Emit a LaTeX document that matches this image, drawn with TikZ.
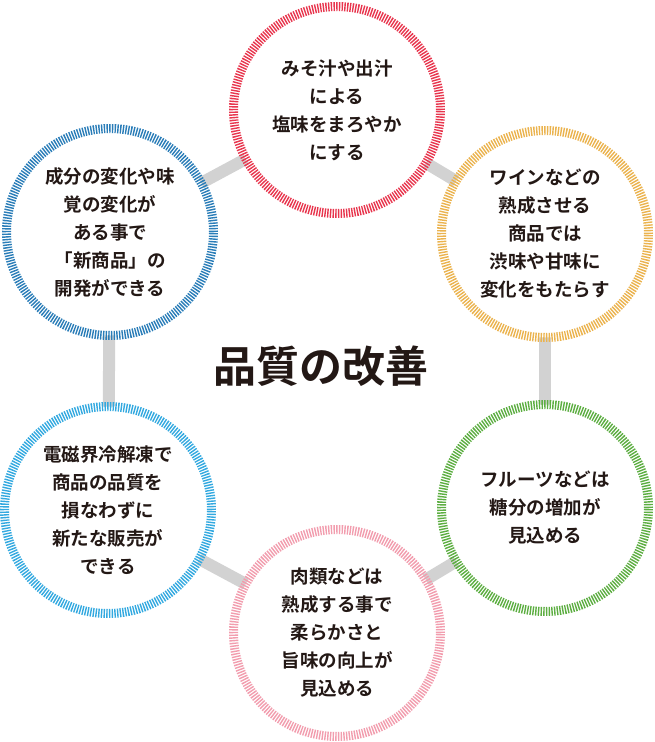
\documentclass[tikz,border=0pt]{standalone}
\usepackage{fontspec}
\setmainfont{Noto Sans CJK JP}[BoldFont={* Bold}]
\usetikzlibrary{backgrounds}
\definecolor{ringred}{HTML}{E8364E}
\definecolor{ringyellow}{HTML}{EBB34E}
\definecolor{ringblue}{HTML}{2A7DB8}
\definecolor{ringcyan}{HTML}{33A9E0}
\definecolor{ringgreen}{HTML}{5DAE42}
\definecolor{ringpink}{HTML}{F29DAE}
\definecolor{linkgray}{HTML}{D2D2D2}
\definecolor{inkdark}{HTML}{231815}

\begin{document}
\begin{tikzpicture}[x=1pt, y=-1pt,
    ring/.style={circle, draw=#1, fill=white, line width=9pt,
      dash pattern=on 1.4pt off 1.3pt, minimum size=207pt, inner sep=0pt,
      align=center, text=inkdark,
      font=\bfseries\fontsize{18.5}{28}\selectfont},
    link/.style={draw=linkgray, line width=12pt}]
  \useasboundingbox (0,0) rectangle (654,742);
  % six hatched circles round the centre
  \foreach \name/\pos/\col/\txt in {
      miso/{(337,110)}/ringred/{みそ汁や出汁\\による\\塩味をまろやか\\にする},
      wine/{(545,234)}/ringyellow/{ワインなどの\\熟成させる\\商品では\\渋味や甘味に\\変化をもたらす},
      taste/{(110,232)}/ringblue/{成分の変化や味\\覚の変化が\\ある事で\\「新商品」の\\開発ができる},
      thaw/{(108,510)}/ringcyan/{電磁界冷解凍で\\商品の品質を\\損なわずに\\新たな販売が\\できる},
      fruit/{(545,508)}/ringgreen/{フルーツなどは\\糖分の増加が\\見込める},
      meat/{(337,633)}/ringpink/{肉類などは\\熟成する事で\\柔らかさと\\旨味の向上が\\見込める}} {
    \node[ring=\col] (\name) at \pos {\txt};
  }
  % grey links behind the circles
  \begin{scope}[on background layer]
    \foreach \a/\b in {miso/wine, wine/fruit, fruit/meat, meat/thaw, thaw/taste, taste/miso}
      \draw[link] (\a.center) -- (\b.center);
  \end{scope}
  % title
  \node[text=inkdark, font=\bfseries\fontsize{43}{45}\selectfont] (title) at (321,366) {品質の改善};
\end{tikzpicture}
\end{document}
